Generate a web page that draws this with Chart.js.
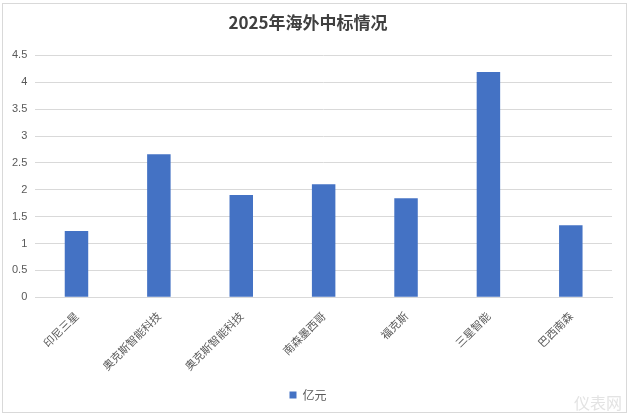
<!DOCTYPE html>
<html>
<head>
<meta charset="utf-8">
<script src="https://cdn.jsdelivr.net/npm/chart.js@4/dist/chart.umd.min.js"></script>
<style>
  html, body { margin: 0; padding: 0; background: #fff; }
  #wrap { position: relative; width: 632px; height: 420px; overflow: hidden; }
  #frame { position: absolute; left: 2px; top: 3px; width: 625px; height: 410px; border: 1px solid #d9d9d9; box-sizing: border-box; }
  #c { position: absolute; left: 0; top: 0; }
  #wm { position: absolute; right: 10px; bottom: 6px; font: 16px "Noto Sans CJK SC", sans-serif; color: #e3e3e3; }
</style>
</head>
<body>
<div id="wrap">
  <div id="frame"></div>
  <canvas id="c" width="632" height="420"></canvas>
  <div id="wm">仪表网</div>
</div>
<script>
const chartTitle = "2025年海外中标情况";
const seriesName = "亿元";
const categories = ["印尼三星", "奥克斯智能科技", "奥克斯智能科技", "南森墨西哥", "福克斯", "三星智能", "巴西南森"];
const values = [1.23, 2.66, 1.90, 2.10, 1.84, 4.19, 1.34];
const yTicks = [0, 0.5, 1, 1.5, 2, 2.5, 3, 3.5, 4, 4.5];

new Chart(document.getElementById("c"), {
  type: "bar",
  data: {
    labels: categories,
    datasets: [{
      label: seriesName,
      data: values,
      backgroundColor: "#4472C4",
      borderWidth: 0,
      categoryPercentage: 1,
      barPercentage: 0.285
    }]
  },
  options: {
    responsive: false,
    animation: false,
    layout: { padding: { left: 4, right: 20, top: 4, bottom: 9 } },
    plugins: {
      title: {
        display: true,
        text: chartTitle,
        color: "#404040",
        font: { family: "'Noto Sans CJK SC', sans-serif", size: 17, weight: "bold" },
        padding: { top: 8, bottom: 23 }
      },
      legend: {
        position: "bottom",
        labels: {
          boxWidth: 7, boxHeight: 7,
          color: "#595959",
          font: { family: "'Noto Sans CJK SC', sans-serif", size: 12 },
          padding: 12
        }
      },
      tooltip: { enabled: false }
    },
    scales: {
      y: {
        min: 0, max: 4.5,
        afterBuildTicks: (axis) => { axis.ticks = yTicks.map(v => ({ value: v })); },
        ticks: {
          color: "#595959",
          font: { family: "'Liberation Sans', sans-serif", size: 11 },
          padding: 8,
          callback: (v) => String(v)
        },
        grid: { color: "#d9d9d9", drawTicks: false },
        border: { display: false }
      },
      x: {
        ticks: {
          color: "#595959",
          font: { family: "'Noto Sans CJK SC', sans-serif", size: 11 },
          minRotation: 45, maxRotation: 45,
          padding: 4
        },
        grid: { display: false },
        border: { display: true, color: "#d9d9d9" }
      }
    }
  }
});
</script>
</body>
</html>
